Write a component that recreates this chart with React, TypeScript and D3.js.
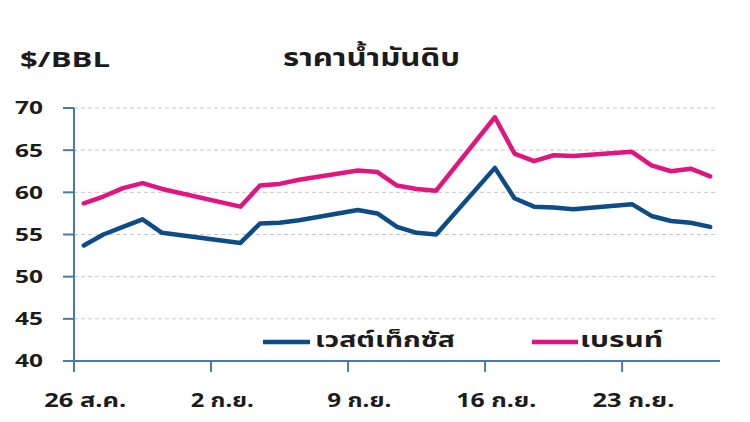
import React from "react";
import * as d3 from "d3";

const dates = [
  "2019-08-26", "2019-08-27", "2019-08-28", "2019-08-29", "2019-08-30",
  "2019-09-03", "2019-09-04", "2019-09-05", "2019-09-06",
  "2019-09-09", "2019-09-10", "2019-09-11", "2019-09-12", "2019-09-13",
  "2019-09-16", "2019-09-17", "2019-09-18", "2019-09-19", "2019-09-20",
  "2019-09-23", "2019-09-24", "2019-09-25", "2019-09-26", "2019-09-27",
];
const wti = [
  53.7, 55.0, 55.9, 56.8, 55.2,
  54.0, 56.3, 56.4, 56.7,
  57.9, 57.5, 55.9, 55.2, 55.0,
  62.9, 59.3, 58.3, 58.2, 58.0,
  58.6, 57.2, 56.6, 56.4, 55.9,
];
const brent = [
  58.7, 59.5, 60.5, 61.1, 60.4,
  58.3, 60.8, 61.0, 61.5,
  62.6, 62.4, 60.8, 60.4, 60.2,
  68.9, 64.6, 63.7, 64.4, 64.3,
  64.8, 63.2, 62.5, 62.8, 61.9,
];
const yTicks = [40, 45, 50, 55, 60, 65, 70];
const xTickDates = ["2019-08-26", "2019-09-02", "2019-09-09", "2019-09-16", "2019-09-23"];
const xTickLabels = ["26 ส.ค.", "2 ก.ย.", "9 ก.ย.", "16 ก.ย.", "23 ก.ย."];
const xLabelWidths = [82, 63, 64, 80, 82];
const seriesNames = ["เวสต์เท็กซัส", "เบรนท์"];
const title = "ราคาน้ำมันดิบ";
const unitLabel = "$/BBL";

const BLUE = "#0d4c88";
const PINK = "#e0157f";
const AXIS = "#4a7aa8";
const INK = "#1c1c1c";
const FONT = "'Noto Sans Thai', 'Noto Sans Thai Looped', Loma, Garuda, 'Liberation Sans', Arial, sans-serif";

const parse = (s: string) => new Date(s + "T00:00:00");
const half = 12 * 3600 * 1000;

export default function App() {
  const x = d3.scaleTime().domain([parse("2019-08-26"), parse("2019-09-28")]).range([74, 720]);
  const y = d3.scaleLinear().domain([40, 70]).range([361, 108]);
  const pts = dates.map((d) => new Date(parse(d).getTime() + half));
  const line = d3
    .line<number>()
    .x((_, i) => x(pts[i]))
    .y((v) => y(v));

  return (
    <svg width={750} height={422} style={{ position: "absolute", left: 0, top: 0, background: "#fff" }}>
      <rect width={750} height={422} fill="#fff" />
      {yTicks.slice(1).map((t) => (
        <line key={"g" + t} x1={74} x2={718} y1={y(t)} y2={y(t)} stroke="#c8c8c8" strokeWidth={1} strokeDasharray="4,3" />
      ))}
      <path d={line(brent) || ""} fill="none" stroke={PINK} strokeWidth={4.5} strokeLinejoin="round" strokeLinecap="round" />
      <path d={line(wti) || ""} fill="none" stroke={BLUE} strokeWidth={4.5} strokeLinejoin="round" strokeLinecap="round" />
      {/* y axis */}
      <line x1={74} x2={74} y1={y(70)} y2={370} stroke={AXIS} strokeWidth={2} />
      {yTicks.map((t) => (
        <g key={"y" + t}>
          <line x1={63} x2={74} y1={y(t)} y2={y(t)} stroke={AXIS} strokeWidth={2} />
          <text
            x={15}
            y={y(t)}
            dy="0.36em"
            textLength={28}
            lengthAdjust="spacingAndGlyphs"
            fontFamily={FONT}
            fontWeight="bold"
            fontSize={18}
            fill={INK}
          >
            {t}
          </text>
        </g>
      ))}
      {/* x axis */}
      <line x1={74} x2={720} y1={361} y2={361} stroke={AXIS} strokeWidth={2} />
      {xTickDates.map((d, i) => {
        const tx = x(parse(d));
        const lx = x(new Date(parse(d).getTime() + half)) + 1.5;
        const w = xLabelWidths[i];
        return (
          <g key={d}>
            <line x1={tx} x2={tx} y1={361} y2={372} stroke={AXIS} strokeWidth={2} />
            <text
              x={lx - w / 2}
              y={406.5}
              textLength={w}
              lengthAdjust="spacingAndGlyphs"
              fontFamily={FONT}
              fontWeight="bold"
              fontSize={19}
              fill={INK}
            >
              {xTickLabels[i]}
            </text>
          </g>
        );
      })}
      {/* titles */}
      <text x={20} y={67} textLength={90} lengthAdjust="spacingAndGlyphs" fontFamily={FONT} fontWeight="bold" fontSize={21} fill={INK}>
        {unitLabel}
      </text>
      <text x={283} y={66} textLength={177} lengthAdjust="spacingAndGlyphs" fontFamily={FONT} fontWeight="bold" fontSize={24} fill={INK}>
        {title}
      </text>
      {/* legend */}
      <line x1={263} x2={310} y1={342} y2={342} stroke={BLUE} strokeWidth={4.5} />
      <text x={315} y={347} textLength={140} lengthAdjust="spacingAndGlyphs" fontFamily={FONT} fontWeight="bold" fontSize={22} fill={INK}>
        {seriesNames[0]}
      </text>
      <line x1={532} x2={578} y1={342} y2={342} stroke={PINK} strokeWidth={4.5} />
      <text x={580} y={347} textLength={83} lengthAdjust="spacingAndGlyphs" fontFamily={FONT} fontWeight="bold" fontSize={22} fill={INK}>
        {seriesNames[1]}
      </text>
    </svg>
  );
}
